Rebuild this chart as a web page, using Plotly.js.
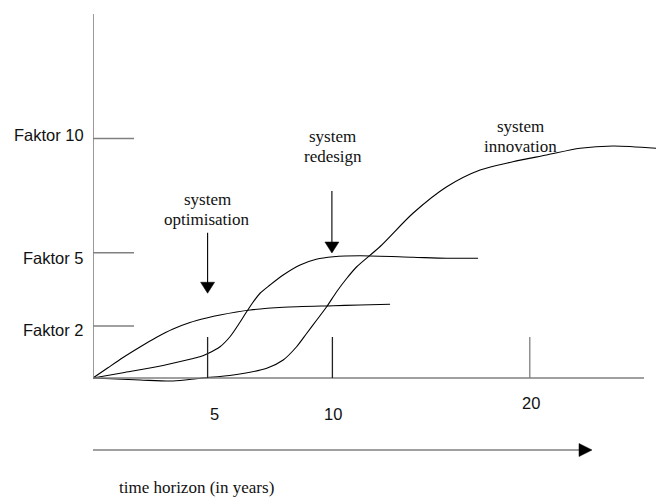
<!DOCTYPE html>
<html>
<head>
<meta charset="utf-8">
<script src="https://cdn.plot.ly/plotly-3.0.1.min.js"></script>
<style>html,body{margin:0;padding:0;background:#fff;}#chart{width:656px;height:498px;}</style>
</head>
<body>
<div id="chart"></div>
<script>
// ---- data (schematic units) ----
const optimisationX = [0, 0.60, 1.21, 1.89, 2.56, 3.22, 3.90, 4.57, 5.11, 6.32, 7.66, 9.67, 10.74, 11.95];
const optimisationY = [0, 0.41, 0.82, 1.24, 1.63, 1.96, 2.22, 2.40, 2.52, 2.72, 2.83, 2.89, 2.92, 2.95];

const redesignX = [0, 1.21, 2.56, 3.90, 4.30, 4.60, 5.11, 5.51, 5.84, 6.18, 6.45, 6.72, 7.12, 7.65, 8.33, 8.98, 9.67, 10.74, 12.87, 14.23, 15.49];
const redesignY = [0, 0.21, 0.45, 0.75, 0.85, 0.97, 1.25, 1.65, 2.12, 2.65, 3.05, 3.39, 3.72, 4.12, 4.52, 4.75, 4.85, 4.89, 4.83, 4.79, 4.79];

const innovationX = [0, 1.89, 3.22, 4.30, 5.64, 6.99, 7.65, 8.19, 8.60, 9.00, 9.40, 9.80, 10.21, 10.61, 11.54, 12.87, 14.23, 15.57, 16.89, 18.25, 19.59, 20.92, 22.65];
const innovationY = [0, -0.08, -0.12, -0.01, 0.12, 0.39, 0.72, 1.25, 1.79, 2.32, 2.85, 3.45, 3.99, 4.45, 5.25, 6.59, 7.65, 8.32, 8.65, 8.92, 9.19, 9.28, 9.19];

const xTickPos = [4.61, 9.63, 17.57];
const xTickLabels = ["5", "10", "20"];
const yTickPos = [2.08, 5.01, 9.58];
const yTickLabels = ["Faktor 2", "Faktor 5", "Faktor 10"];

const arrowX = [4.61, 9.61];          // optimisation, redesign
const arrowTail = [5.81, 7.48];
const arrowTip = [3.39, 5.00];

const phaseLabels = [["system", "optimisation"], ["system", "redesign"], ["system", "innovation"]];
const phaseLabelX = [4.60, 9.64, 17.18];
const phaseLabelY = [7.16, 9.65, 10.08];
const xAxisTitle = "time horizon (in years)";

// ---- layout geometry ----
const L = 93, T = 14, B = 110, W = 656, H = 498;
const PW = W - L, PH = H - T - B;
const XR = [0, 22.647], YR = [-0.4, 14.56];
const pxX = p => (p - L) / PW;
const pxY = p => (H - B - p) / PH;
const dx = PW / (XR[1] - XR[0]); // px per x unit
const dy = PH / (YR[1] - YR[0]);

const sans = "Liberation Sans, Arial, sans-serif";
const serif = "Liberation Serif, Times New Roman, serif";
const axisGray = "#808080";

const lineStyle = {color: "#000", width: 1.1, shape: "spline", smoothing: 0.8};
const traces = [
  {x: optimisationX, y: optimisationY, mode: "lines", line: lineStyle, hoverinfo: "skip"},
  {x: redesignX, y: redesignY, mode: "lines", line: lineStyle, hoverinfo: "skip"},
  {x: innovationX, y: innovationY, mode: "lines", line: lineStyle, hoverinfo: "skip"}
];

const shapes = [];
// y axis line
shapes.push({type: "line", xref: "x", yref: "paper", x0: 0, x1: 0, y0: pxY(378), y1: 1, line: {color: axisGray, width: 1.6}});
// x axis line
shapes.push({type: "line", xref: "x", yref: "y", x0: 0, x1: (644 - L) / dx, y0: 0, y1: 0, line: {color: axisGray, width: 1.6}});
// y ticks
yTickPos.forEach(v => shapes.push({type: "line", xref: "x", yref: "y", x0: 0, x1: 41 / dx, y0: v, y1: v, line: {color: axisGray, width: 1.3}}));
// x ticks
xTickPos.forEach((v, i) => shapes.push({type: "line", xref: "x", yref: "y", x0: v, x1: v, y0: 0, y1: 41 / dy, line: {color: i < 2 ? "#222" : axisGray, width: 1.3}}));
// vertical arrows
arrowX.forEach((x, i) => {
  const hw = 7 / dx, hh = 11 / dy;
  shapes.push({type: "line", xref: "x", yref: "y", x0: x, x1: x, y0: arrowTail[i], y1: arrowTip[i] + hh * 0.5, line: {color: "#000", width: 1.1}});
  shapes.push({type: "path", xref: "x", yref: "y",
    path: `M${x - hw},${arrowTip[i] + hh} L${x + hw},${arrowTip[i] + hh} L${x},${arrowTip[i]} Z`,
    fillcolor: "#000", line: {color: "#000", width: 0.5}});
});
// time arrow
shapes.push({type: "line", xref: "paper", yref: "paper", x0: pxX(93), x1: pxX(582), y0: pxY(450), y1: pxY(450), line: {color: axisGray, width: 1.6}});
shapes.push({type: "path", xref: "paper", yref: "paper",
  path: `M${pxX(579)},${pxY(443.5)} L${pxX(592)},${pxY(450)} L${pxX(579)},${pxY(456.5)} Z`,
  fillcolor: "#000", line: {color: "#000", width: 0.5}});

const annotations = [];
const faktorTextY = [330, 258.3, 134.5];
yTickLabels.forEach((t, i) => annotations.push({text: t, xref: "paper", yref: "paper", x: pxX(86), y: pxY(faktorTextY[i]),
  xanchor: "right", yanchor: "middle", showarrow: false, font: {family: sans, size: 16.5, color: "#111"}}));
const numPos = [[214, 414], [333, 414], [531, 403]];
xTickLabels.forEach((t, i) => annotations.push({text: t, xref: "paper", yref: "paper", x: pxX(numPos[i][0]), y: pxY(numPos[i][1]),
  xanchor: "center", yanchor: "middle", showarrow: false, font: {family: sans, size: 16.5, color: "#111"}}));
phaseLabels.forEach((lines, i) => lines.forEach((t, j) => annotations.push({text: t, xref: "x", yref: "y",
  x: phaseLabelX[i], y: phaseLabelY[i] - j * 20 / dy, xanchor: "center", yanchor: "middle", showarrow: false,
  font: {family: serif, size: 17, color: "#111"}})));
annotations.push({text: xAxisTitle, xref: "paper", yref: "paper", x: pxX(196), y: pxY(487), xanchor: "center", yanchor: "middle",
  showarrow: false, font: {family: serif, size: 17, color: "#111"}});

const hidden = {showgrid: false, zeroline: false, showticklabels: false, ticks: "", showline: false, fixedrange: true};
const layout = {
  width: W, height: H,
  margin: {l: L, r: 0, t: T, b: B, pad: 0},
  paper_bgcolor: "#fff", plot_bgcolor: "#fff",
  showlegend: false,
  xaxis: Object.assign({range: XR}, hidden),
  yaxis: Object.assign({range: YR}, hidden),
  shapes: shapes,
  annotations: annotations
};
Plotly.newPlot("chart", traces, layout, {staticPlot: true, displayModeBar: false});
</script>
</body>
</html>
